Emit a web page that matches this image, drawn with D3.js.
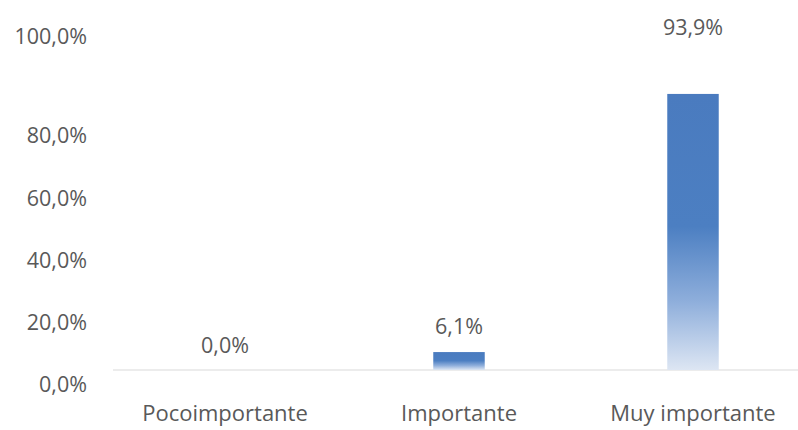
<!DOCTYPE html>
<html>
<head>
<meta charset="utf-8">
<script src="https://cdn.jsdelivr.net/npm/d3@7"></script>
<style>
  html, body { margin: 0; padding: 0; background: #ffffff; }
  svg { display: block; }
  text { font-family: "Open Sans", Lato, "Liberation Sans", sans-serif; fill: #595959; }
</style>
</head>
<body>
<svg id="chart" width="798" height="430"></svg>
<script>
// Categories and shares (fraction of respondents)
const categories = ["Pocoimportante", "Importante", "Muy importante"];
const shares = [0.0, 0.061, 0.939];
const valueLabels = ["0,0%", "6,1%", "93,9%"];
const tickValues = [0, 0.2, 0.4, 0.6, 0.8, 1.0];
const tickLabels = ["0,0%", "20,0%", "40,0%", "60,0%", "80,0%", "100,0%"];

const W = 798, H = 430;
const FONT = "'Open Sans', Lato, 'Liberation Sans', sans-serif";
const svg = d3.select("#chart");

// Horizontal band scale for the three categories
const x = d3.scaleBand().domain(categories).range([108, 810]).paddingInner(0.78).paddingOuter(0.39);
// Bar heights
const y = d3.scaleLinear().domain([0, 1]).range([370, 76]);
// Label placement scale for axis and value text
const labelY = d3.scaleLinear().domain([0, 0.8, 1]).range([385, 136, 37]);

// Bar gradient: solid blue at top fading towards the base
const defs = svg.append("defs");
const grad = defs.append("linearGradient")
  .attr("id", "barFill").attr("x1", 0).attr("y1", 0).attr("x2", 0).attr("y2", 1);
grad.append("stop").attr("offset", "0%").attr("stop-color", "#4a7bbf");
grad.append("stop").attr("offset", "48%").attr("stop-color", "#4c7fc2");
grad.append("stop").attr("offset", "75%").attr("stop-color", "#8eaedb");
grad.append("stop").attr("offset", "100%").attr("stop-color", "#dde6f3");

// Category axis line
svg.append("line")
  .attr("x1", 113).attr("x2", W)
  .attr("y1", y(0)).attr("y2", y(0))
  .attr("stroke", "#d9d9d9").attr("stroke-width", 1.2);

// Bars
svg.append("g").selectAll("rect")
  .data(categories)
  .join("rect")
  .attr("x", d => x(d))
  .attr("width", x.bandwidth())
  .attr("y", (d, i) => y(shares[i]))
  .attr("height", (d, i) => y(0) - y(shares[i]))
  .attr("fill", "url(#barFill)");

// Value axis labels (no line, no ticks)
const yAxis = d3.axisLeft(labelY)
  .tickValues(tickValues)
  .tickFormat((d, i) => tickLabels[i])
  .tickSize(0).tickPadding(0);
const gy = svg.append("g").attr("transform", "translate(87,0)").call(yAxis);
gy.select(".domain").remove();
gy.selectAll("text")
  .style("font-family", FONT)
  .style("font-size", "21.5px")
  .attr("fill", "#5f5f5f");

// Category labels
const xAxis = d3.axisBottom(x).tickSize(0).tickPadding(0);
const gx = svg.append("g").attr("transform", "translate(0,405)").call(xAxis);
gx.select(".domain").remove();
gx.selectAll("text")
  .style("font-family", FONT)
  .style("font-size", "22px")
  .attr("fill", "#5f5f5f");

// Data labels above bars
svg.append("g").selectAll("text")
  .data(categories)
  .join("text")
  .attr("x", d => x(d) + x.bandwidth() / 2)
  .attr("y", (d, i) => labelY(shares[i]) - 40)
  .attr("dy", "0.35em")
  .attr("text-anchor", "middle")
  .style("font-family", FONT)
  .style("font-size", "21.5px")
  .attr("fill", "#5f5f5f")
  .text((d, i) => valueLabels[i]);
</script>
</body>
</html>
